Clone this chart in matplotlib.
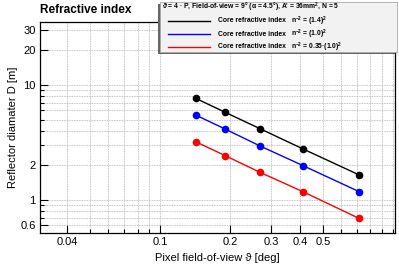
import matplotlib
matplotlib.use("Agg")
import matplotlib.pyplot as plt
from matplotlib.patches import Rectangle
from matplotlib.lines import Line2D
from matplotlib.ticker import LogLocator, FixedLocator, FixedFormatter, NullFormatter

plt.rcParams['font.family'] = ['Liberation Sans', 'DejaVu Sans']
plt.rcParams['mathtext.fontset'] = 'custom'
plt.rcParams['mathtext.rm'] = 'Liberation Sans:bold'
plt.rcParams['mathtext.it'] = 'Liberation Sans:bold'

# pixel field of view [deg]
pixel_fov = [0.142, 0.19, 0.268, 0.41, 0.715]

# reflector diameter D [m] for each core refractive index
d_n14 = [7.66, 5.79, 4.17, 2.78, 1.65]
d_n10 = [5.48, 4.14, 2.95, 1.99, 1.18]
d_n035 = [3.21, 2.43, 1.74, 1.18, 0.69]

series = [
    (d_n14, "black", r"n$^{-2}$ = (1.4)$^{2}$"),
    (d_n10, "blue", r"n$^{-2}$ = (1.0)$^{2}$"),
    (d_n035, "red", "n$^{-2}$ = 0.35\u00b7(1.0)$^{2}$"),
]

x_ticks = [0.04, 0.1, 0.2, 0.3, 0.4, 0.5]
x_labels = ["0.04", "0.1", "0.2", "0.3", "0.4", "0.5"]
y_ticks = [0.6, 1, 2, 10, 20, 30]
y_labels = ["0.6", "1", "2", "10", "20", "30"]

W, H = 399, 265
fig = plt.figure(figsize=(W / 100, H / 100), dpi=100)
ax = fig.add_axes([40 / W, 1 - 233 / H, 355 / W, 211 / H])

for ys, col, _ in series:
    ax.plot(pixel_fov, ys, color=col, lw=1.0, marker="o", ms=4.5, zorder=3)

ax.set_xscale("log")
ax.set_yscale("log")
ax.set_xlim(0.0305, 1.02)
ax.set_ylim(0.515, 35.3)

ax.xaxis.set_major_locator(FixedLocator(x_ticks))
ax.xaxis.set_major_formatter(FixedFormatter(x_labels))
ax.xaxis.set_minor_locator(LogLocator(base=10, subs=range(1, 10)))
ax.xaxis.set_minor_formatter(NullFormatter())
ax.yaxis.set_major_locator(FixedLocator(y_ticks))
ax.yaxis.set_major_formatter(FixedFormatter(y_labels))
ax.yaxis.set_minor_locator(LogLocator(base=10, subs=range(1, 10)))
ax.yaxis.set_minor_formatter(NullFormatter())

ax.grid(True, which="both", color="#b0b0b0", ls=(0, (1, 1)), lw=0.6)
ax.tick_params(which="both", direction="in", labelsize=8, width=0.8)
ax.tick_params(which="major", length=6)
ax.tick_params(which="minor", length=3)
ax.tick_params(axis="x", pad=3)
ax.tick_params(axis="y", pad=3)
for sp in ax.spines.values():
    sp.set_linewidth(0.9)

ax.set_xlabel("Pixel field-of-view \u03d1 [deg]", fontsize=8, labelpad=4)
ax.set_ylabel("Reflector diamater D [m]", fontsize=8, labelpad=2)

fig.text(40 / W, 1 - 10 / H, "Refractive index", fontsize=8.5, fontweight="bold",
         ha="left", va="center")


# legend box in pixel coordinates
def fx(px):
    return px / W


def fy(py):
    return 1 - py / H


shadow = Rectangle((fx(158), fy(54)), fx(397) - fx(160), fy(2) - fy(52),
                   transform=fig.transFigure, facecolor="#666666", edgecolor="none", zorder=9)
box = Rectangle((fx(160), fy(52)), fx(397) - fx(160), fy(2) - fy(52),
                transform=fig.transFigure, facecolor="#f2f2f2", edgecolor="#aaaaaa",
                lw=0.6, zorder=10)
fig.patches.extend([shadow, box])

fig.text(fx(162), fy(7), "\u03d1 = 4 \u00b7 P, Field-of-view = 9\u00b0 (\u03b1 = 4.5\u00b0), "
         "A' = 36mm$^{2}$, N = 5", fontsize=4.9, fontweight="bold", ha="left",
         va="center", zorder=11)

row_y = [21, 34, 47]
for (ys, col, lab), ry in zip(series, row_y):
    fig.lines.append(Line2D([fx(168), fx(210)], [fy(ry), fy(ry)], color=col, lw=1.0,
                            transform=fig.transFigure, zorder=11))
    fig.text(fx(218), fy(ry), "Core refractive index", fontsize=4.9, fontweight="bold",
             ha="left", va="center", zorder=11)
    fig.text(fx(291), fy(ry), lab, fontsize=4.9, fontweight="bold",
             ha="left", va="center", zorder=11)

fig.savefig("out.png", dpi=100)
